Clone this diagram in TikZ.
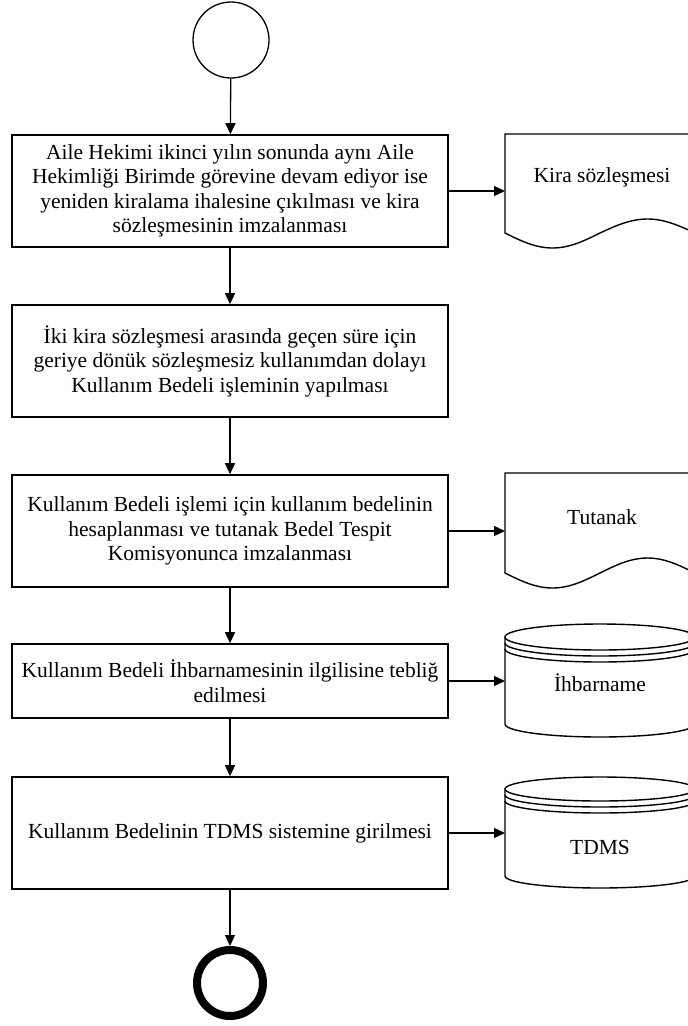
\documentclass[tikz,border=0pt]{standalone}
\usepackage{fontspec}
\setmainfont{Liberation Serif}
\usetikzlibrary{arrows.meta}
\begin{document}
\begin{tikzpicture}[x=1pt,y=-1pt,
  every node/.style={font=\fontsize{21.5}{24.5}\selectfont},
  procbox/.style={draw,line width=1.6pt,minimum width=436pt,inner sep=0pt,align=center,fill=white},
  shapeline/.style={draw,line width=1.4pt,fill=white},
  flow/.style={line width=1.3pt,-{Triangle[length=11pt,width=10pt]}},
  shapelabel/.style={inner sep=0pt}]
\useasboundingbox (0,0) rectangle (688,1026);
\clip (0,0) rectangle (688,1026);

% start and end
\node[circle,draw,line width=1.3pt,minimum size=76pt,inner sep=0pt] (start) at (231,40) {};
\node[circle,draw,line width=8pt,minimum size=66pt,inner sep=0pt] (stop) at (230,983) {};

% process boxes
\node[procbox,minimum height=112pt] (b1) at (230,191) {Aile Hekimi ikinci yılın sonunda aynı Aile\\Hekimliği Birimde görevine devam ediyor ise\\yeniden kiralama ihalesine çıkılması ve kira\\sözleşmesinin imzalanması};
\node[procbox,minimum height=112pt] (b2) at (230,361) {İki kira sözleşmesi arasında geçen süre için\\geriye dönük sözleşmesiz kullanımdan dolayı\\Kullanım Bedeli işleminin yapılması};
\node[procbox,minimum height=112pt] (b3) at (230,531) {Kullanım Bedeli işlemi için kullanım bedelinin\\hesaplanması ve tutanak Bedel Tespit\\Komisyonunca imzalanması};
\node[procbox,minimum height=74pt] (b4) at (230,681) {Kullanım Bedeli İhbarnamesinin ilgilisine tebliğ\\edilmesi};
\node[procbox,minimum height=112pt] (b5) at (230,833) {Kullanım Bedelinin TDMS sistemine girilmesi};

% document 1
\path[shapeline] (505,134) -- (505,233) sin (552.5,248) cos (600,233) sin (647.5,219) cos (695,233) -- (695,134) -- cycle;
\node[shapelabel] (d1) at (602,177) {Kira sözleşmesi};
\coordinate (d1w) at (505,191);

% document 2
\path[shapeline] (505,473) -- (505,573) sin (552.5,588) cos (600,573) sin (647.5,558) cos (695,573) -- (695,473) -- cycle;
\node[shapelabel] (d2) at (602,517) {Tutanak};
\coordinate (d2w) at (505,531);

% cylinder 1
\path[shapeline] (505,637) -- (505,724) arc[start angle=180,end angle=0,x radius=95,y radius=13] -- (695,637) -- cycle;
\draw[line width=1.4pt,fill=white] (600,637) ellipse [x radius=95,y radius=13];
\draw[line width=1.4pt] (505,643) arc[start angle=180,end angle=0,x radius=95,y radius=13];
\draw[line width=1.4pt] (505,649) arc[start angle=180,end angle=0,x radius=95,y radius=13];
\node[shapelabel] (c1) at (600,683) {İhbarname};
\coordinate (c1w) at (505,681);

% cylinder 2
\path[shapeline] (505,789) -- (505,876) arc[start angle=180,end angle=0,x radius=95,y radius=12] -- (695,789) -- cycle;
\draw[line width=1.4pt,fill=white] (600,789) ellipse [x radius=95,y radius=12];
\draw[line width=1.4pt] (505,795) arc[start angle=180,end angle=0,x radius=95,y radius=12];
\draw[line width=1.4pt] (505,801) arc[start angle=180,end angle=0,x radius=95,y radius=12];
\node[shapelabel] (c2) at (600,847) {TDMS};
\coordinate (c2w) at (505,833);

% connectors
\draw[flow] (start) -- (b1);
\draw[flow] (b1) -- (b2);
\draw[flow] (b2) -- (b3);
\draw[flow] (b3) -- (b4);
\draw[flow] (b4) -- (b5);
\draw[flow] (b5) -- (stop.north);
\draw[flow] (b1.east) -- (d1w);
\draw[flow] (b3.east) -- (d2w);
\draw[flow] (b4.east) -- (c1w);
\draw[flow] (b5.east) -- (c2w);
\end{tikzpicture}
\end{document}
